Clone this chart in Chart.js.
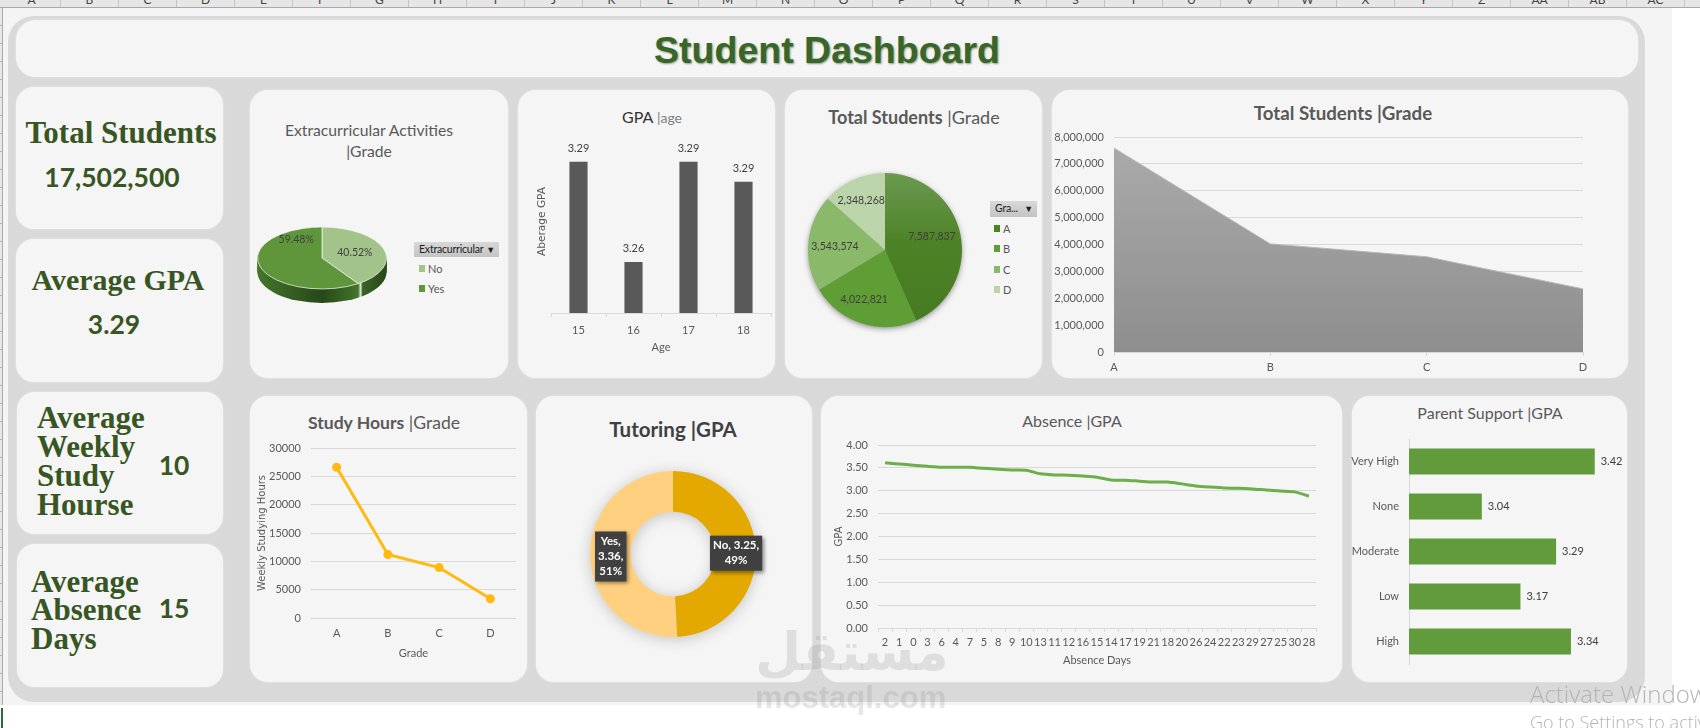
<!DOCTYPE html>
<html>
<head>
<meta charset="utf-8">
<title>Student Dashboard</title>
<script src="https://cdn.jsdelivr.net/npm/chart.js@4"></script>
<style>
body { margin: 0; background: #fff; width: 1700px; height: 728px; overflow: hidden; position: relative; font-family: Lato, sans-serif; }
#sheet { position: absolute; left: 3px; top: 8px; width: 1669px; height: 697px; background: #f4f4f4; }
#heads { position: absolute; left: 0; top: 0; width: 1700px; height: 7px; background: #e6e6e6; border-bottom: 1px solid #a8a8a8; overflow: hidden; }
#heads span { position: absolute; top: -8px; width: 58px; text-align: center; font-size: 12px; color: #444; border-right: 1px solid #c4c4c4; height: 16px; box-sizing: border-box; }
#rows { position: absolute; left: 0; top: 8px; width: 2px; height: 697px; border-right: 1px solid #aaa; background: repeating-linear-gradient(#e6e6e6 0 17px, #b5b5b5 17px 18px); }
#sel { position: absolute; left: 1px; top: 708px; width: 2px; height: 20px; background: #2f6b3c; }
#panel { position: absolute; left: 8px; top: 16px; width: 1637px; height: 686px; background: #d9d9d9; border-radius: 26px; }
.card { position: absolute; background: #f5f5f5; border-radius: 18px; box-shadow: 0 0 2px #eee; }
canvas { position: absolute; }
.t { position: absolute; transform: translate(-50%, -50%); white-space: nowrap; color: #595959; text-align: center; }
.b { font-weight: 700; }
.l { position: absolute; transform: translateY(-50%); white-space: nowrap; }
.kpi { font-family: "Liberation Serif", serif; font-weight: 700; color: #375623; }
.num { font-family: Lato, sans-serif; font-weight: 700; color: #375623; font-size: 26.5px; }
.btn { position: absolute; background: linear-gradient(#d8d8d8, #c4c4c4); font-size: 10.5px; letter-spacing: -0.2px; color: #222; line-height: 15px; white-space: nowrap; overflow: hidden; padding-left: 5px; box-sizing: border-box; }
.btn i { position: absolute; right: 4px; top: 0; font-style: normal; font-size: 9px; }
.key { position: absolute; width: 6px; height: 7px; }
.keyt { position: absolute; font-size: 11px; color: #595959; transform: translateY(-50%); }
.wm { position: absolute; white-space: nowrap; color: rgba(140,140,140,.22); font-weight: 700; }
.act { position: absolute; white-space: nowrap; color: #b4b4b4; font-family: "Open Sans", sans-serif; font-weight: 300; }
</style>
</head>
<body>
<div id="sheet"></div>
<div id="heads"></div>
<div id="rows"></div>
<div id="sel"></div>
<div id="panel"></div>

<div class="card" style="left:16px;top:20px;width:1622px;height:57px;border-radius:20px"></div>
<div class="card" style="left:16px;top:87px;width:207px;height:142px"></div>
<div class="card" style="left:16px;top:239px;width:207px;height:143px"></div>
<div class="card" style="left:17px;top:392px;width:206px;height:142px"></div>
<div class="card" style="left:17px;top:544px;width:206px;height:143px"></div>
<div class="card" style="left:250px;top:90px;width:258px;height:288px"></div>
<div class="card" style="left:518px;top:90px;width:257px;height:288px"></div>
<div class="card" style="left:785px;top:90px;width:257px;height:288px"></div>
<div class="card" style="left:1052px;top:90px;width:576px;height:288px"></div>
<div class="card" style="left:250px;top:396px;width:277px;height:286px"></div>
<div class="card" style="left:536px;top:396px;width:276px;height:286px"></div>
<div class="card" style="left:821px;top:396px;width:521px;height:286px"></div>
<div class="card" style="left:1352px;top:396px;width:275px;height:286px"></div>

<div class="t" style="left:827px;top:50px;font:700 37.5px 'Liberation Sans',sans-serif;color:#38662a;text-shadow:1px 1px 2px #8a9a80">Student Dashboard</div>

<div class="t kpi" style="left:121px;top:133px;font-size:31px">Total Students</div>
<div class="t num" style="left:112px;top:177px">17,502,500</div>
<div class="t kpi" style="left:118px;top:280px;font-size:30px">Average GPA</div>
<div class="t num" style="left:114px;top:324px">3.29</div>
<div class="l kpi" style="left:37px;top:418px;font-size:31px">Average</div>
<div class="l kpi" style="left:37px;top:447px;font-size:31px">Weekly</div>
<div class="l kpi" style="left:37px;top:476px;font-size:31px">Study</div>
<div class="l kpi" style="left:37px;top:505px;font-size:31px">Hourse</div>
<div class="t num" style="left:174px;top:465px">10</div>
<div class="l kpi" style="left:31px;top:582px;font-size:31px">Average</div>
<div class="l kpi" style="left:31px;top:610px;font-size:31px">Absence</div>
<div class="l kpi" style="left:31px;top:639px;font-size:31px">Days</div>
<div class="t num" style="left:174px;top:608px">15</div>

<div class="t" style="left:369px;top:130px;font-size:15.7px">Extracurricular Activities</div>
<div class="t" style="left:369px;top:151px;font-size:15.7px">|Grade</div>
<div class="t" style="left:652px;top:116px;font-size:16px;color:#7f7f7f"><span style="color:#333">GPA</span> <span style="font-size:14px">|age</span></div>
<div class="t" style="left:914px;top:117px;font-size:18px"><span class="b">Total Students</span> |Grade</div>
<div class="t b" style="left:1343px;top:113px;font-size:18.7px">Total Students |Grade</div>
<div class="t" style="left:384px;top:422px;font-size:17.6px"><span class="b">Study Hours</span> |Grade</div>
<div class="t b" style="left:673px;top:429px;font-size:20.5px;color:#404040">Tutoring |GPA</div>
<div class="t" style="left:1072px;top:420px;font-size:16px">Absence |GPA</div>
<div class="t" style="left:1490px;top:412px;font-size:16px">Parent Support |GPA</div>

<div class="btn" style="left:414px;top:242px;width:85px;height:15px">Extracurricular<i>&#9660;</i></div>
<div class="key" style="left:419px;top:265px;background:#a2c38a"></div><div class="keyt" style="left:428px;top:268px">No</div>
<div class="key" style="left:419px;top:285px;background:#5f963c"></div><div class="keyt" style="left:428px;top:288px">Yes</div>

<div class="btn" style="left:990px;top:201px;width:47px;height:16px">Gra...<i>&#9660;</i></div>
<div class="key" style="left:994px;top:225px;background:#4e8226"></div><div class="keyt" style="left:1003px;top:228px">A</div>
<div class="key" style="left:994px;top:245px;background:#5f9e35"></div><div class="keyt" style="left:1003px;top:248px">B</div>
<div class="key" style="left:994px;top:266px;background:#8ab96a"></div><div class="keyt" style="left:1003px;top:269px">C</div>
<div class="key" style="left:994px;top:286px;background:#bcd4aa"></div><div class="keyt" style="left:1003px;top:289px">D</div>

<canvas id="extraChart" style="left:250px;top:90px" width="258" height="288"></canvas>
<canvas id="ageChart" style="left:518px;top:90px" width="257" height="288"></canvas>
<canvas id="gradePie" style="left:785px;top:90px" width="257" height="288"></canvas>
<canvas id="areaChart" style="left:1052px;top:90px" width="576" height="288"></canvas>
<canvas id="hoursChart" style="left:250px;top:396px" width="277" height="286"></canvas>
<canvas id="tutorChart" style="left:536px;top:396px" width="276" height="286"></canvas>
<canvas id="absChart" style="left:821px;top:396px" width="521" height="286"></canvas>
<canvas id="parentChart" style="left:1342px;top:396px" width="285" height="286"></canvas>

<div class="wm" style="left:755px;top:621px;font:700 53px 'DejaVu Sans',sans-serif">مستقل</div>
<div class="wm" style="left:755px;top:680px;font:700 31px 'Liberation Sans',sans-serif">mostaql.com</div>
<div class="act" style="left:1530px;top:677px;font-size:24px">Activate Windows</div>
<div class="act" style="left:1530px;top:710px;font-size:18px">Go to Settings to activate Windows.</div>

<script>
// values
const extraLabels = ['No', 'Yes'];
const extraValues = [40.52, 59.48];

const ageLabels = ['15', '16', '17', '18'];
const ageGpa = [3.294, 3.256, 3.294, 3.2864];

const gradeLabels = ['A', 'B', 'C', 'D'];
const gradeStudents = [7587837, 4022821, 3543574, 2348268];
const gradeHours = [26600, 11200, 8900, 3400];

const tutorLabels = ['No', 'Yes'];
const tutorGpa = [3.25, 3.36];

const absenceDays = ['2','1','0','3','6','4','7','5','8','9','10','13','11','12','16','15','14','17','19','21','18','20','26','24','22','23','29','27','25','30','28'];
const absenceGpa = [3.61,3.585,3.56,3.535,3.515,3.515,3.515,3.49,3.47,3.455,3.45,3.37,3.345,3.34,3.32,3.295,3.235,3.23,3.21,3.19,3.19,3.15,3.105,3.08,3.06,3.055,3.04,3.015,2.995,2.975,2.88];

const supportLabels = ['Very High', 'None', 'Moderate', 'Low', 'High'];
const supportGpa = [3.42, 3.04, 3.29, 3.17, 3.34];

const sheetCols = ['A','B','C','D','E','F','G','H','I','J','K','L','M','N','O','P','Q','R','S','T','U','V','W','X','Y','Z','AA','AB','AC'];

// spreadsheet column strip along the top
var heads = document.getElementById('heads');
sheetCols.forEach(function (c, i) {
    var s = document.createElement('span');
    s.textContent = c;
    s.style.left = (3 + i * 58) + 'px';
    heads.appendChild(s);
});

Chart.defaults.animation = false;
Chart.defaults.responsive = false;
Chart.defaults.font.family = 'Lato, sans-serif';
Chart.defaults.font.size = 11;
Chart.defaults.color = '#595959';
Chart.defaults.plugins.legend.display = false;
Chart.defaults.plugins.tooltip.enabled = false;

const GRID = '#d9d9d9';

// padding + fixed axis sizes so the plot lands where it is in the picture
function frame(leftW, top, right, bottomH) {
    return {
        padding: { left: 0, top: top, right: right, bottom: 0 },
        yFit: function (s) { s.width = leftW; },
        xFit: function (s) { s.height = bottomH; }
    };
}

// number labels next to bars
const barLabels = {
    id: 'barLabels',
    afterDatasetsDraw: function (chart, args, opts) {
        if (!opts.show) return;
        var ctx = chart.ctx;
        var meta = chart.getDatasetMeta(0);
        ctx.save();
        ctx.font = '11px Lato, sans-serif';
        ctx.fillStyle = '#404040';
        ctx.textBaseline = 'middle';
        meta.data.forEach(function (bar, i) {
            var txt = chart.data.datasets[0].data[i].toFixed(2);
            if (opts.horizontal) {
                ctx.textAlign = 'left';
                ctx.fillText(txt, bar.x + 6, bar.y);
            } else {
                ctx.textAlign = 'center';
                ctx.fillText(txt, bar.x, bar.y - 13);
            }
        });
        ctx.restore();
    }
};

// pie text, placed as a fraction of the radius from the pie centre
const sliceLabels = {
    id: 'sliceLabels',
    afterDatasetsDraw: function (chart, args, opts) {
        if (!opts.place) return;
        var ctx = chart.ctx;
        var arcs = chart.getDatasetMeta(0).data;
        var r = arcs[0].outerRadius;
        ctx.save();
        ctx.textAlign = 'center';
        ctx.textBaseline = 'middle';
        opts.place.forEach(function (p, i) {
            var x = arcs[0].x + p[0] * r;
            var y = arcs[0].y + p[1] * r;
            var lines = opts.text(i);
            if (opts.box) {
                ctx.font = '700 11.5px Lato, sans-serif';
                var w = 0;
                lines.forEach(function (l) { w = Math.max(w, ctx.measureText(l).width); });
                var h = lines.length * 15 + 5;
                ctx.shadowColor = 'rgba(0,0,0,.45)';
                ctx.shadowBlur = 4;
                ctx.shadowOffsetX = 2;
                ctx.shadowOffsetY = 2;
                ctx.fillStyle = '#404040';
                ctx.fillRect(x - w / 2 - 3, y - h / 2, w + 6, h);
                ctx.shadowColor = 'transparent';
                ctx.fillStyle = '#fff';
            } else {
                ctx.font = '10.5px Lato, sans-serif';
                ctx.fillStyle = '#404040';
            }
            lines.forEach(function (l, n) {
                ctx.fillText(l, x, y + (n - (lines.length - 1) / 2) * 15);
            });
        });
        ctx.restore();
    }
};

// soft shadow under the flat pies, ring shaped so a doughnut hole stays clear
const pieShadow = {
    id: 'pieShadow',
    beforeDatasetsDraw: function (chart, args, opts) {
        if (!opts.blur) return;
        var ctx = chart.ctx;
        var arc = chart.getDatasetMeta(0).data[0];
        ctx.save();
        ctx.shadowColor = opts.color;
        ctx.shadowBlur = opts.blur;
        ctx.shadowOffsetY = opts.dy;
        ctx.fillStyle = '#888';
        ctx.beginPath();
        ctx.arc(arc.x, arc.y, arc.outerRadius - 1, 0, Math.PI * 2);
        if (arc.innerRadius > 0) ctx.arc(arc.x, arc.y, arc.innerRadius + 1, 0, Math.PI * 2, true);
        ctx.fill('evenodd');
        ctx.restore();
    }
};

// tilted look for the extracurricular pie: squash the arcs and stack a side wall
const tilt = {
    id: 'tilt',
    beforeDatasetsDraw: function (chart, args, opts) {
        if (!opts.squash) return;
        var ctx = chart.ctx;
        var arcs = chart.getDatasetMeta(0).data;
        var cx = arcs[0].x, cy = arcs[0].y, r = arcs[0].outerRadius;
        var wall = ctx.createLinearGradient(cx - r, 0, cx + r, 0);
        wall.addColorStop(0, '#44752a');
        wall.addColorStop(0.5, '#27481a');
        wall.addColorStop(0.78, '#44752a');
        wall.addColorStop(0.8, '#dfe8d8');
        wall.addColorStop(0.815, '#3a6226');
        wall.addColorStop(1, '#294719');
        ctx.save();
        ctx.fillStyle = wall;
        for (var d = opts.depth; d > 0; d--) {
            ctx.beginPath();
            ctx.ellipse(cx, cy + d, r, r * opts.squash, 0, 0, Math.PI * 2);
            ctx.fill();
        }
        ctx.restore();
        ctx.save();
        ctx.translate(cx, cy);
        ctx.scale(1, opts.squash);
        ctx.translate(-cx, -cy);
    },
    afterDatasetsDraw: function (chart, args, opts) {
        if (opts.squash) chart.ctx.restore();
    }
};

Chart.register(barLabels, tilt, pieShadow, sliceLabels);

// Extracurricular pie
var f;
new Chart(document.getElementById('extraChart'), {
    type: 'pie',
    data: { labels: extraLabels, datasets: [{ data: extraValues, clip: false, backgroundColor: ['#a2c38a', '#5f963c'], borderColor: '#f2f6ee', borderWidth: 1 }] },
    options: {
        layout: { padding: { left: 7, top: 103, right: 121, bottom: 55 } },
        plugins: {
            tilt: { squash: 0.48, depth: 14 },
            sliceLabels: {
                place: [[0.51, -0.09], [-0.40, -0.29]],
                text: function (i) { return [extraValues[i].toFixed(2) + '%']; }
            }
        }
    }
});

// GPA by age
f = frame(33, 40, 4, 65);
new Chart(document.getElementById('ageChart'), {
    type: 'bar',
    data: { labels: ageLabels, datasets: [{ data: ageGpa, backgroundColor: '#595959', barPercentage: 0.66, categoryPercentage: 0.5 }] },
    options: {
        layout: { padding: f.padding },
        plugins: { barLabels: { show: true } },
        scales: {
            x: {
                afterFit: f.xFit,
                grid: { drawOnChartArea: false, color: GRID, tickLength: 4 },
                border: { color: GRID },
                ticks: { padding: 7 },
                title: { display: true, text: 'Age', font: { size: 11 }, padding: { top: 4, bottom: 24 } }
            },
            y: {
                afterFit: f.yFit,
                min: 3.2366,
                max: 3.3061,
                grid: { display: false },
                border: { display: false },
                ticks: { display: false },
                title: { display: true, text: 'Aberage GPA', font: { family: 'DejaVu Sans', size: 10.6 }, padding: { top: 18, bottom: 0 } }
            }
        }
    }
});

// Total students pie, slice A fades lighter to the top
new Chart(document.getElementById('gradePie'), {
    type: 'pie',
    data: {
        labels: gradeLabels,
        datasets: [{
            data: gradeStudents,
            borderWidth: 0,
            backgroundColor: function (c) {
                var others = ['#4e8226', '#5f9e35', '#8ab96a', '#bcd4aa'];
                var a = c.chart.chartArea;
                if (c.dataIndex !== 0 || !a) return others[c.dataIndex];
                var g = c.chart.ctx.createLinearGradient(0, a.top, 0, a.bottom);
                g.addColorStop(0, '#6a9a50');
                g.addColorStop(0.45, '#4e8226');
                g.addColorStop(1, '#457a22');
                return g;
            }
        }]
    },
    options: {
        layout: { padding: { left: 23, top: 83, right: 80, bottom: 51 } },
        plugins: {
            pieShadow: { blur: 6, dy: 2, color: 'rgba(0,0,0,.5)' },
            sliceLabels: {
                place: [[0.61, -0.17], [-0.27, 0.65], [-0.65, -0.04], [-0.31, -0.64]],
                text: function (i) { return [gradeStudents[i].toLocaleString('en-US')]; }
            }
        }
    }
});

// Total students area
f = frame(62, 47, 45, 26);
new Chart(document.getElementById('areaChart'), {
    type: 'line',
    data: {
        labels: gradeLabels,
        datasets: [{
            data: gradeStudents,
            fill: 'origin',
            tension: 0,
            pointRadius: 0,
            borderWidth: 1,
            borderColor: '#b8b8b8',
            backgroundColor: function (c) {
                var a = c.chart.chartArea;
                if (!a) return '#999';
                var g = c.chart.ctx.createLinearGradient(0, a.top, 0, a.bottom);
                g.addColorStop(0, '#ababab');
                g.addColorStop(1, '#8e8e8e');
                return g;
            }
        }]
    },
    options: {
        layout: { padding: f.padding },
        scales: {
            x: {
                afterFit: f.xFit,
                offset: false,
                grid: { drawOnChartArea: false, color: GRID, tickLength: 4 },
                border: { color: GRID },
                ticks: { padding: 5 }
            },
            y: {
                afterFit: f.yFit,
                min: 0,
                max: 8000000,
                grid: { color: GRID, drawTicks: false },
                border: { display: false },
                ticks: { stepSize: 1000000, padding: 10, callback: function (v) { return v.toLocaleString('en-US'); } }
            }
        }
    }
});

// Study hours line
f = frame(61, 52, 11, 64);
new Chart(document.getElementById('hoursChart'), {
    type: 'line',
    data: { labels: gradeLabels, datasets: [{ data: gradeHours, borderColor: '#ffb90f', backgroundColor: '#ffb90f', borderWidth: 3, pointRadius: 3, tension: 0 }] },
    options: {
        layout: { padding: f.padding },
        scales: {
            x: {
                afterFit: f.xFit,
                offset: true,
                grid: { display: false },
                border: { display: false },
                ticks: { padding: 1 },
                title: { display: true, text: 'Grade', font: { size: 11 }, padding: { top: 7, bottom: 22 } }
            },
            y: {
                afterFit: f.yFit,
                min: 0,
                max: 30000,
                grid: { color: GRID, drawTicks: false },
                border: { display: false },
                ticks: { stepSize: 5000, padding: 10, callback: function (v) { return String(v); } },
                title: { display: true, text: 'Weekly Studying Hours', font: { family: 'DejaVu Sans', size: 10 }, padding: { top: 6, bottom: 0 } }
            }
        }
    }
});

// Tutoring doughnut
new Chart(document.getElementById('tutorChart'), {
    type: 'doughnut',
    data: { labels: tutorLabels, datasets: [{ data: tutorGpa, backgroundColor: ['#e3a900', '#ffd07f'], borderWidth: 0 }] },
    options: {
        cutout: '51%',
        layout: { padding: { left: 54, top: 75, right: 56, bottom: 45 } },
        plugins: {
            pieShadow: { blur: 16, dy: 2, color: 'rgba(0,0,0,.22)' },
            sliceLabels: {
                box: true,
                place: [[0.76, -0.01], [-0.75, 0.03]],
                text: function (i) {
                    var total = tutorGpa[0] + tutorGpa[1];
                    var pct = Math.round(tutorGpa[i] / total * 100) + '%';
                    if (i === 0) return [tutorLabels[i] + ', ' + tutorGpa[i].toFixed(2) + ',', pct];
                    return [tutorLabels[i] + ',', tutorGpa[i].toFixed(2) + ',', pct];
                }
            }
        }
    }
});

// Absence line
f = frame(57, 49, 26, 54);
new Chart(document.getElementById('absChart'), {
    type: 'line',
    data: { labels: absenceDays, datasets: [{ data: absenceGpa, borderColor: '#6cae48', borderWidth: 3, pointRadius: 0, tension: 0.25 }] },
    options: {
        layout: { padding: f.padding },
        scales: {
            x: {
                afterFit: f.xFit,
                offset: true,
                grid: { drawOnChartArea: false, offset: true, color: GRID, tickLength: 4 },
                border: { color: GRID },
                ticks: { autoSkip: false, maxRotation: 0, padding: 4 },
                title: { display: true, text: 'Absence Days', font: { size: 11 }, padding: { top: 4, bottom: 15 } }
            },
            y: {
                afterFit: f.yFit,
                min: 0,
                max: 4,
                grid: { color: GRID, drawTicks: false },
                border: { display: false },
                ticks: { stepSize: 0.5, padding: 10, callback: function (v) { return v.toFixed(2); } },
                title: { display: true, text: 'GPA', font: { family: 'DejaVu Sans', size: 10 }, padding: { top: 12, bottom: 0 } }
            }
        }
    }
});

// Parent support bars
f = frame(67, 43, 7, 18);
new Chart(document.getElementById('parentChart'), {
    type: 'bar',
    data: { labels: supportLabels, datasets: [{ data: supportGpa, backgroundColor: '#619b3c', categoryPercentage: 0.578, barPercentage: 1 }] },
    options: {
        indexAxis: 'y',
        layout: { padding: f.padding },
        plugins: { barLabels: { show: true, horizontal: true } },
        scales: {
            x: {
                afterFit: f.xFit,
                min: 2.795,
                max: 3.505,
                display: true,
                grid: { display: false },
                border: { display: false },
                ticks: { display: false }
            },
            y: {
                afterFit: f.yFit,
                grid: { display: false },
                border: { color: GRID },
                ticks: { padding: 2 }
            }
        }
    }
});
</script>
</body>
</html>
